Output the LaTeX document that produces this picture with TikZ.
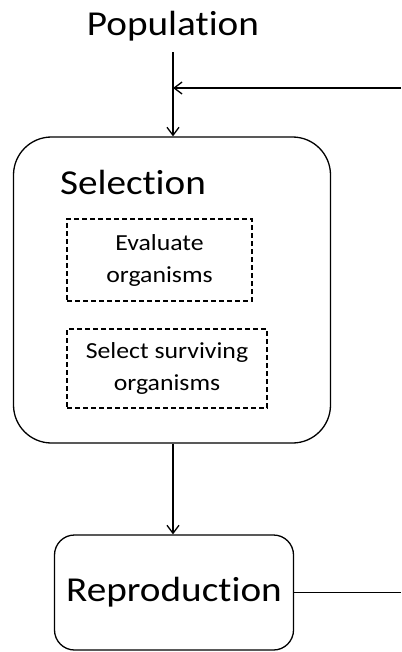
\documentclass[tikz,border=0pt]{standalone}
\usepackage{fontspec}
\setmainfont{Carlito}[FakeStretch=1.12, Ligatures={NoCommon}]
\usetikzlibrary{arrows.meta,positioning}
\tikzset{
  stage/.style={draw, rounded corners=#1, line width=1.3pt},
  task/.style={draw, dashed, dash pattern=on 5pt off 3pt, line width=1.2pt, align=center, font=\fontsize{23}{32}\selectfont},
  flow/.style={-{Straight Barb[length=8pt,width=12pt]}, line width=1.3pt},
  big/.style={font=\fontsize{35}{42}\selectfont},
}
\begin{document}
\begin{tikzpicture}[x=1pt, y=-1pt]
  \useasboundingbox (0,0) rectangle (401,652);
  \node[big, anchor=base] (pop) at (173,36) {Population};
  \node[stage=38pt, minimum width=317pt, minimum height=306pt] (sel) at (172,290) {};
  \node[big, anchor=base] (seltitle) at (133,195) {Selection};
  \node[task, minimum width=185pt, minimum height=82pt] (eval) at (159.5,260) {Evaluate\\organisms};
  \node[task, minimum width=200pt, minimum height=79pt] (surv) at (167,368.5) {Select surviving\\organisms};
  \node[stage=20pt, big, minimum width=239pt, minimum height=115pt] (rep) at (174,592.5) {Reproduction};
  \coordinate (loopin) at (401,88);
  \coordinate (loopout) at (401,592.5);
  \draw[flow, shorten <=7pt] (pop.south) -- (pop.south |- sel.north);
  \draw[flow] (loopin) -- (pop.south |- loopin);
  \draw[flow] (pop.south |- sel.south) -- (pop.south |- rep.north);
  \draw[line width=1.3pt] (rep.east) -- (loopout);
\end{tikzpicture}
\end{document}
